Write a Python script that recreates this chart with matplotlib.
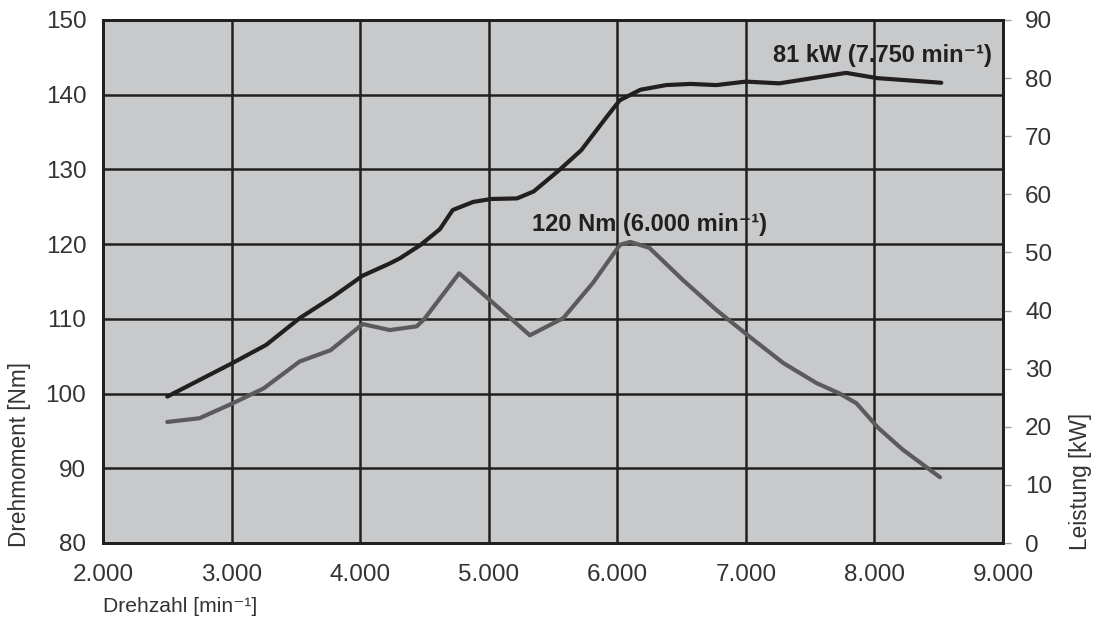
import matplotlib
matplotlib.use("Agg")
import matplotlib.pyplot as plt

plt.rcParams['font.family'] = ['Liberation Sans', 'DejaVu Sans']

# Drehmoment (linke Achse)
rpm_torque = [2500, 2750, 3010, 3250, 3530, 3770, 4020, 4230, 4440, 4500, 4770, 5010, 5320,
              5580, 5810, 6020, 6100, 6250, 6510, 6770, 7030, 7290, 7550, 7730, 7860, 8030,
              8220, 8510]
torque = [96.2, 96.7, 98.7, 100.7, 104.3, 105.8, 109.3, 108.5, 109.0, 110.0, 116.1, 112.5, 107.8,
          110.1, 114.8, 119.9, 120.3, 119.5, 115.2, 111.2, 107.6, 104.1, 101.4, 100.0, 98.7, 95.4,
          92.5, 88.8]

# Leistung (rechte Achse)
rpm_power = [2500, 3010, 3270, 3530, 3790, 4020, 4230, 4310, 4470, 4620, 4720, 4880, 5020, 5220,
             5350, 5550, 5720, 5920, 6020, 6180, 6380, 6570, 6770, 7000, 7260, 7520, 7780, 8020,
             8520]
power = [25.2, 31.0, 34.1, 38.7, 42.4, 46.0, 48.1, 49.0, 51.3, 54.0, 57.3, 58.7, 59.2, 59.3,
         60.5, 64.2, 67.6, 73.4, 76.2, 78.0, 78.8, 79.0, 78.8, 79.4, 79.1, 80.0, 80.9, 80.0,
         79.2]

x_ticks = [2000, 3000, 4000, 5000, 6000, 7000, 8000, 9000]
x_labels = ['2.000', '3.000', '4.000', '5.000', '6.000', '7.000', '8.000', '9.000']
y_left_ticks = [80, 90, 100, 110, 120, 130, 140, 150]
y_right_ticks = [0, 10, 20, 30, 40, 50, 60, 70, 80, 90]

dark = '#231f20'
grey_line = '#5b5b5d'
bg = '#c8c9cb'
txt = '#333333'

fig = plt.figure(figsize=(11.01, 6.29), dpi=100)
ax = fig.add_axes([103 / 1101, 86 / 629, 900 / 1101, 523 / 629])
ax.set_facecolor(bg)
ax.set_xlim(2000, 9000)
ax.set_ylim(80, 150)
ax.set_xticks(x_ticks)
ax.set_xticklabels(x_labels)
ax.set_yticks(y_left_ticks)
ax.grid(True, color=dark, lw=1.8)
ax.tick_params(axis='both', length=0, labelsize=17.5, colors=dark, labelcolor=txt)
ax.tick_params(axis='x', pad=15)
ax.tick_params(axis='y', pad=12)
for s in ax.spines.values():
    s.set_color(dark)
    s.set_linewidth(2)

ax.plot(rpm_torque, torque, color=grey_line, lw=3, solid_joinstyle='round',
        solid_capstyle='round', zorder=3)

ax2 = ax.twinx()
ax2.set_ylim(0, 90)
ax2.set_yticks(y_right_ticks)
ax2.tick_params(axis='y', length=6, width=1, color='#a0a0a0', labelsize=17.5,
                labelcolor=txt, pad=10)
for s in ax2.spines.values():
    s.set_color(dark)
    s.set_linewidth(2)
ax2.plot(rpm_power, power, color=dark, lw=3, solid_joinstyle='round',
         solid_capstyle='round', zorder=3)

ax.text(7210, 145.3, '81 kW (7.750 min⁻¹)', fontsize=17, fontweight='bold',
        color=dark, va='center', ha='left', zorder=5)
ax.text(5340, 122.6, '120 Nm (6.000 min⁻¹)', fontsize=17, fontweight='bold',
        color=dark, va='center', ha='left', zorder=5)

fig.text(103 / 1101, 1 - 607 / 629, 'Drehzahl [min⁻¹]', fontsize=15.2, color=txt,
         ha='left', va='center')
fig.text(20 / 1101, 1 - 547 / 629, 'Drehmoment [Nm]', fontsize=16.3, color=txt,
         rotation=90, ha='center', va='bottom')
fig.text(1080 / 1101, 1 - 550 / 629, 'Leistung [kW]', fontsize=16.3, color=txt,
         rotation=90, ha='center', va='bottom')

fig.savefig('out.png', dpi=100, facecolor='white')
